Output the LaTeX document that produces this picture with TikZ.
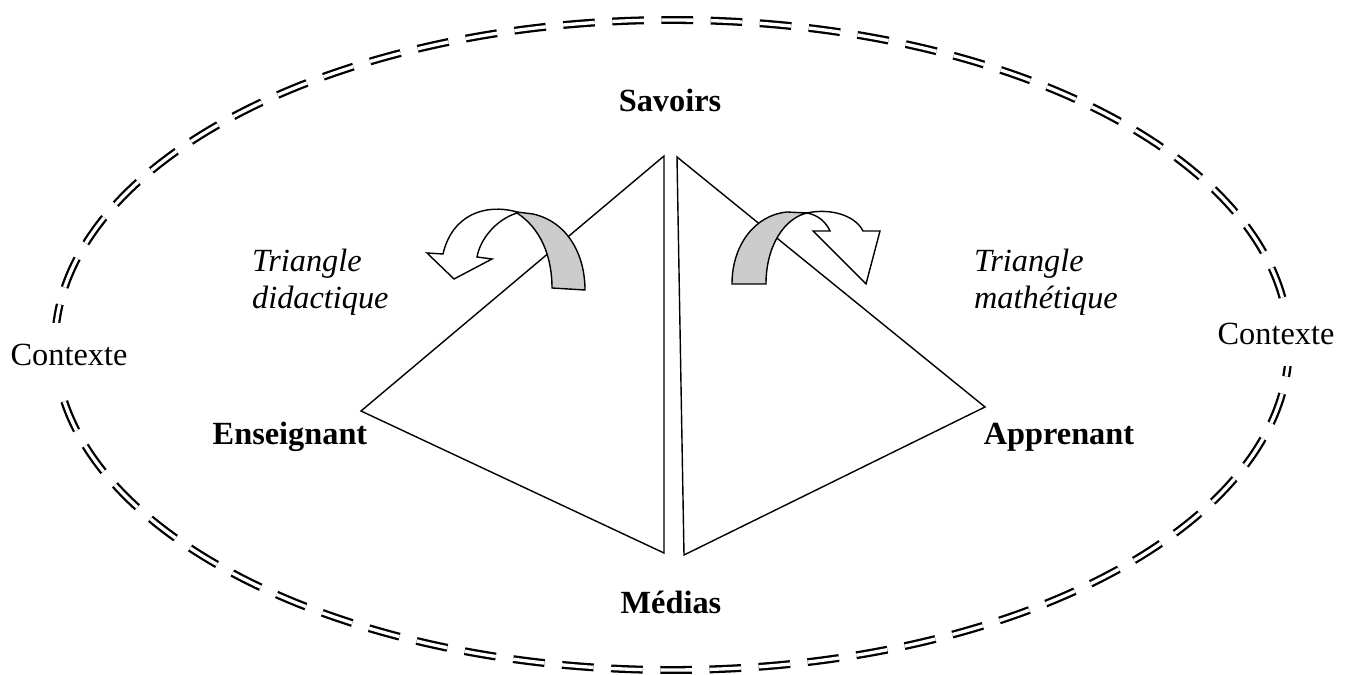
\documentclass[tikz,border=0pt]{standalone}
\usepackage{fontspec}
\setmainfont{Liberation Serif}
\usepackage{xcolor}
\usepackage{tikz}

\tikzset{
  ctxline/.style={line width=1.3pt, double distance=1.9pt, dash pattern=on 18pt off 10pt},
  triline/.style={line width=0.8pt, line join=miter},
  turnarrow/.style={line width=0.8pt, line join=miter},
  lbl/.style={font=\fontsize{18.4}{21}\selectfont, inner sep=1pt},
  ctxbox/.style={lbl, fill=white, inner xsep=2pt, inner ysep=12pt},
}

\begin{document}
\begin{tikzpicture}[x=0.02cm, y=-0.02cm]
    \useasboundingbox (0,0) rectangle (1347,675);

    % Draw context ellipse
    \draw[ctxline] (672,345) ellipse [x radius=617, y radius=325];

    % Corners of the two triangles
    \coordinate (savL) at (664,156);
    \coordinate (ens) at (361,411);
    \coordinate (medL) at (664,553);
    \coordinate (savR) at (677,157);
    \coordinate (app) at (985,407);
    \coordinate (medR) at (684,555);

    % Draw triangles
    \draw[triline] (savL) -- (ens) -- (medL) -- cycle;
    \draw[triline] (savR) -- (app) -- (medR) -- cycle;

    % Turning arrow, left
    \draw[turnarrow, fill=gray!40] (517,212) -- (533,214) .. controls (568,222) and (585,255) .. (585,290)
        -- (552,288) .. controls (552,255) and (540,228) .. (517,213) -- cycle;
    \draw[turnarrow, fill=white] (517,212) .. controls (485,203) and (452,215) .. (443,254)
        -- (427,253) -- (454,279) -- (492,259) -- (477,257)
        .. controls (480,240) and (495,220) .. (517,213) -- cycle;

    % Turning arrow, right
    \draw[turnarrow, fill=gray!40] (732,284) .. controls (732,245) and (755,215) .. (787,212)
        -- (807,213) .. controls (785,218) and (766,245) .. (766,284) -- cycle;
    \draw[turnarrow, fill=white] (807,213) .. controls (830,208) and (855,215) .. (863,231)
        -- (880,231) -- (866,284) -- (813,231) -- (830,231)
        .. controls (826,222) and (818,215) .. (807,213) -- cycle;

    % Label corners
    \node[lbl, font=\fontsize{18.4}{21}\selectfont\bfseries] (savoirs) at (670,100) {Savoirs};
    \node[lbl, font=\fontsize{18.4}{21}\selectfont\bfseries] (enseignant) at (290,437) {Enseignant};
    \node[lbl, font=\fontsize{18.4}{21}\selectfont\bfseries] (apprenant) at (1059,437) {Apprenant};
    \node[lbl, font=\fontsize{18.4}{21}\selectfont\bfseries] (medias) at (671,602) {Médias};

    % Label triangles
    \node[lbl, font=\fontsize{18.4}{21}\selectfont\itshape, align=left, anchor=west] (tdid) at (250,282) {Triangle\\didactique};
    \node[lbl, font=\fontsize{18.4}{21}\selectfont\itshape, align=left, anchor=west] (tmath) at (972,282) {Triangle\\mathétique};

    % Label context
    \node[ctxbox] (ctxL) at (69,355) {Contexte};
    \node[ctxbox] (ctxR) at (1276,334) {Contexte};
\end{tikzpicture}
\end{document}
